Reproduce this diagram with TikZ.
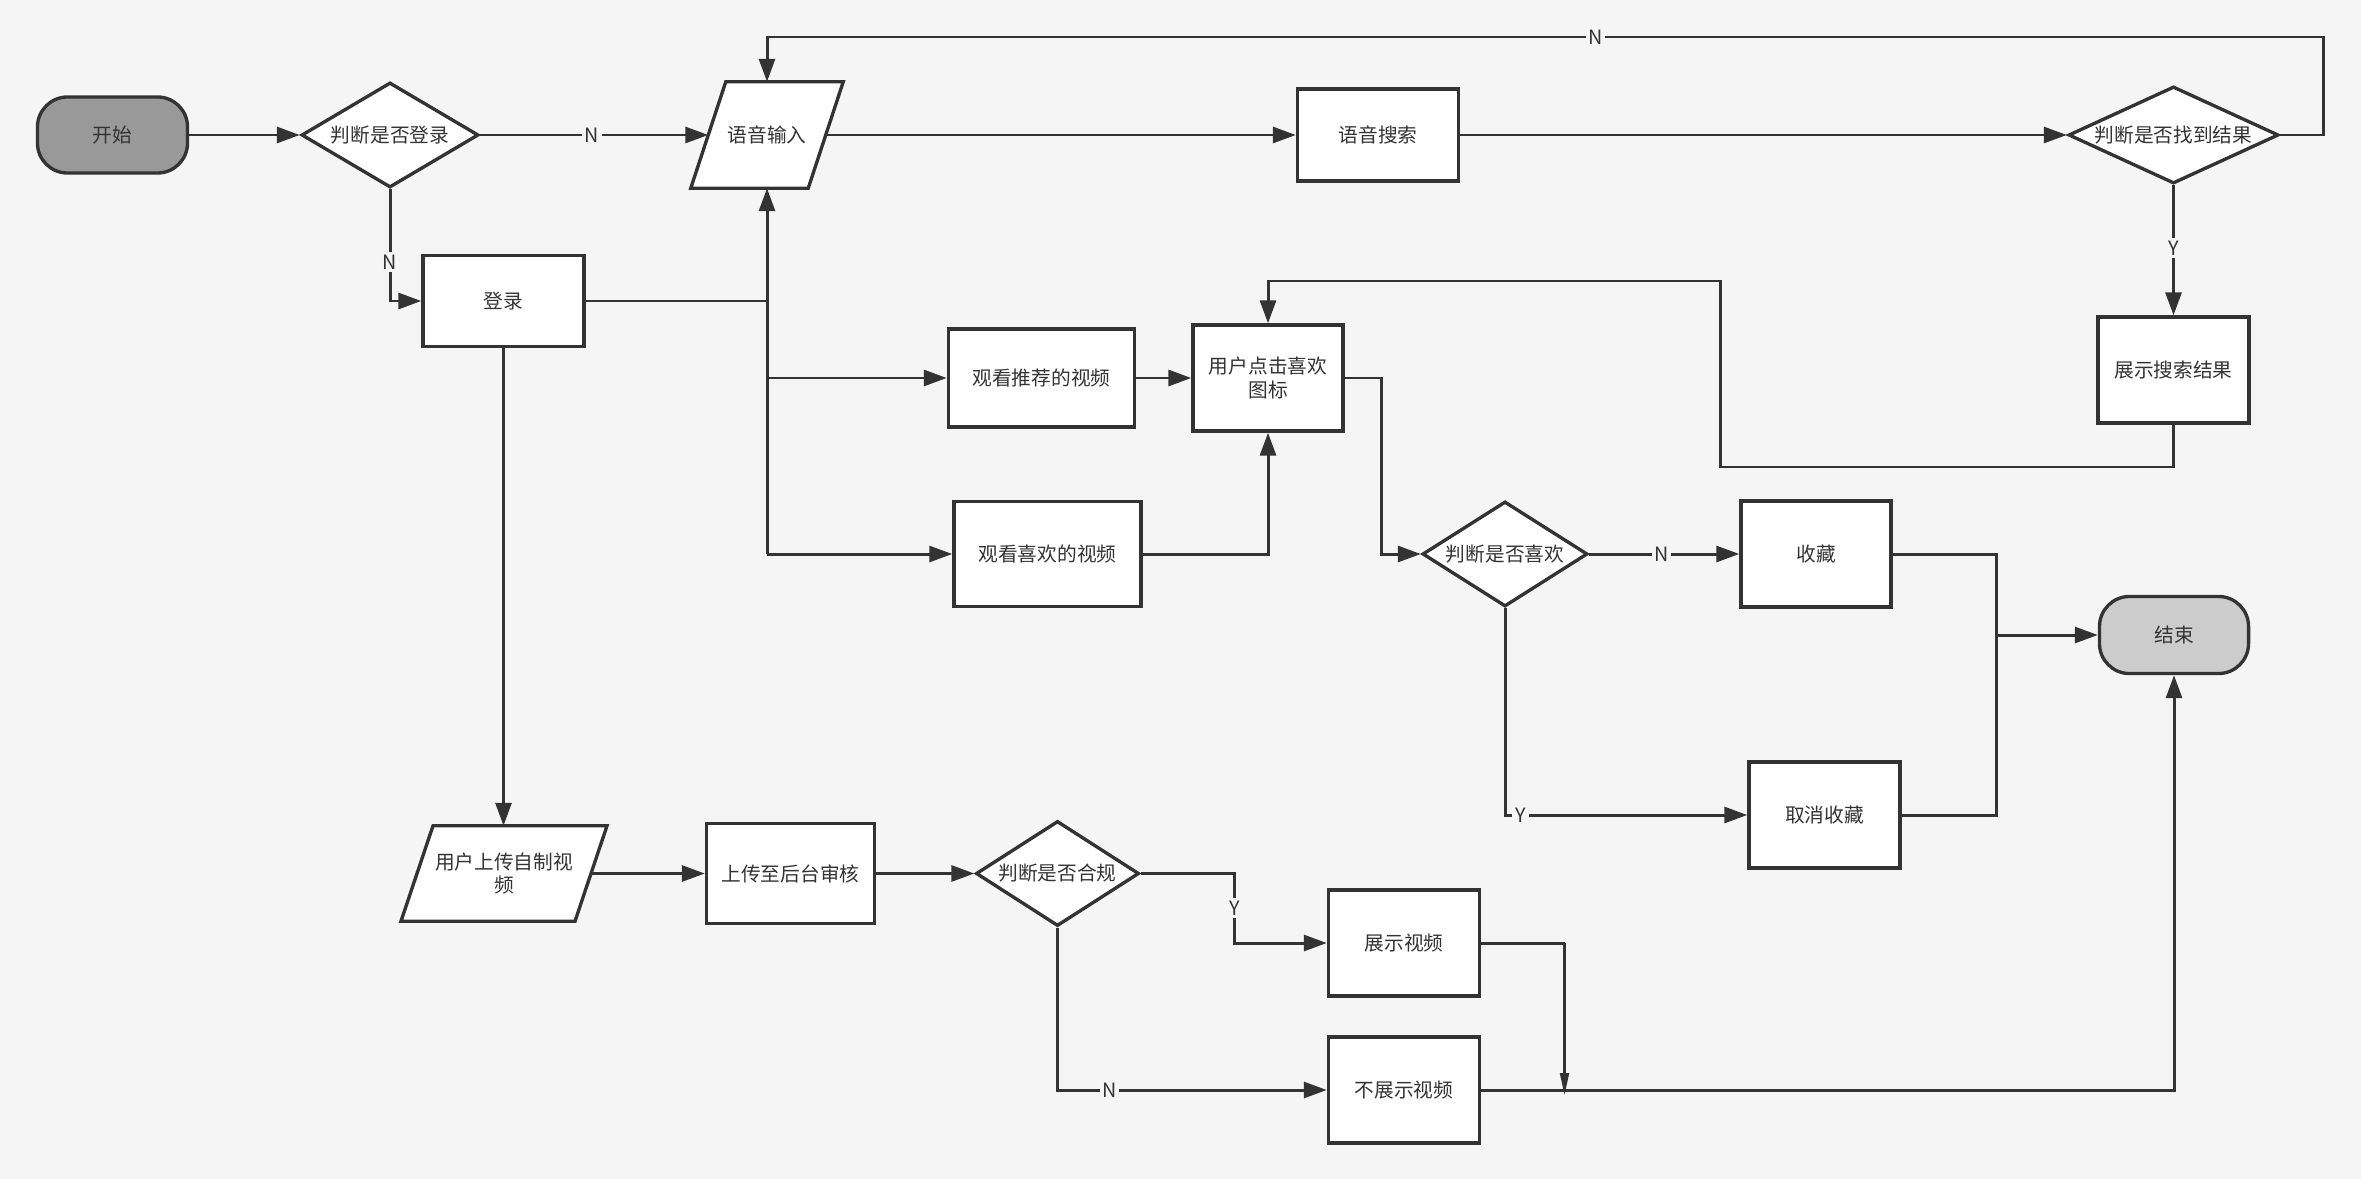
\documentclass[tikz,border=0pt]{standalone}
\usepackage{fontspec}
\setmainfont{Noto Sans CJK SC}
\usetikzlibrary{shapes.geometric,arrows.meta}
\definecolor{bg}{HTML}{F5F5F5}
\definecolor{lc}{HTML}{333333}
\definecolor{startc}{HTML}{999999}
\definecolor{endc}{HTML}{CCCCCC}
\pgfdeclarelayer{back}
\pgfsetlayers{back,main}
\begin{document}
\begin{tikzpicture}[x=0.01cm,y=-0.01cm,
  font=\fontsize{5.6pt}{6.6pt}\selectfont,
  base/.style={draw=lc, line width=0.95pt, fill=white, inner sep=0pt, align=center, text=lc},
  box/.style={base, rectangle},
  term/.style={base, rounded corners=0.3cm},
  dec/.style={base, diamond},
  iobody/.style={rectangle, inner sep=0pt, align=center, text=lc},
  ioshape/.style={draw=lc, line width=0.95pt, fill=white, line join=miter},
  conn/.style={draw=lc, line width=0.85pt},
  arr/.style={conn, -{Triangle[length=0.23cm,width=0.16cm]}},
  arrthin/.style={draw=lc, line width=0.6pt, -{Triangle[length=0.22cm,width=0.09cm]}},
  lab/.style={fill=bg, inner sep=0.8pt, text=lc}]
\begin{pgfonlayer}{back}
\fill[bg] (0,0) rectangle (2361,1179);
\end{pgfonlayer}
\useasboundingbox (0,0) rectangle (2361,1179);
% nodes
\node[term, fill=startc, minimum width=1.50cm, minimum height=0.76cm] (start) at (112.5,135) {开始};
\node[dec, minimum width=1.77cm, minimum height=1.05cm, aspect=1.69] (d1) at (390,135) {判断是否登录};
\node[iobody, minimum width=1.16cm, minimum height=1.05cm] (yuyin) at (767,135) {语音输入};
\node[box, minimum width=1.61cm, minimum height=0.92cm] (search) at (1378,135) {语音搜索};
\node[dec, minimum width=2.10cm, minimum height=0.97cm, aspect=2.16] (d2) at (2173.5,135) {判断是否找到结果};
\node[box, minimum width=1.61cm, minimum height=0.91cm] (login) at (503.5,301) {登录};
\node[box, minimum width=1.51cm, minimum height=1.06cm] (showres) at (2173.5,370) {展示搜索结果};
\node[box, minimum width=1.86cm, minimum height=0.98cm] (rec) at (1041.5,378) {观看推荐的视频};
\node[box, minimum width=1.50cm, minimum height=1.06cm] (click) at (1268,378) {用户点击喜欢\\图标};
\node[box, minimum width=1.87cm, minimum height=1.05cm] (fav) at (1047.5,554) {观看喜欢的视频};
\node[dec, minimum width=1.65cm, minimum height=1.05cm, aspect=1.57] (d4) at (1505,554) {判断是否喜欢};
\node[box, minimum width=1.50cm, minimum height=1.06cm] (col) at (1816,554) {收藏};
\node[term, fill=endc, minimum width=1.49cm, minimum height=0.77cm] (end) at (2174,635) {结束};
\node[box, minimum width=1.51cm, minimum height=1.06cm] (uncol) at (1824.5,815) {取消收藏};
\node[iobody, minimum width=1.725cm, minimum height=0.94cm] (upl) at (504,873.5) {用户上传自制视\\频};
\node[box, minimum width=1.68cm, minimum height=1.00cm] (aud) at (790.5,873.5) {上传至后台审核};
\node[dec, minimum width=1.63cm, minimum height=1.05cm, aspect=1.55] (d3) at (1057.5,873.5) {判断是否合规};
\node[box, minimum width=1.51cm, minimum height=1.06cm] (showv) at (1404,943) {展示视频};
\node[box, minimum width=1.51cm, minimum height=1.06cm] (noshow) at (1404,1090) {不展示视频};
% parallelogram outlines behind the io nodes
\begin{pgfonlayer}{back}
\draw[ioshape] ([xshift=0.175cm]yuyin.north west) -- ([xshift=0.175cm]yuyin.north east)
  -- ([xshift=-0.175cm]yuyin.south east) -- ([xshift=-0.175cm]yuyin.south west) -- cycle;
\draw[ioshape] ([xshift=0.16cm]upl.north west) -- ([xshift=0.16cm]upl.north east)
  -- ([xshift=-0.16cm]upl.south east) -- ([xshift=-0.16cm]upl.south west) -- cycle;
\end{pgfonlayer}
% bend coordinates
\coordinate (j1) at (767,301);
\coordinate (j2) at (767,378);
\coordinate (j3) at (767,554);
\coordinate (c1) at (1381,378);
\coordinate (t1) at (2323.5,37);
\coordinate (r1) at (1720.5,467);
\coordinate (r2) at (1720.5,281);
\coordinate (m1) at (1996,635);
\coordinate (y1) at (1234.5,873.5);
\coordinate (s1) at (1564.5,943);
% connectors
\draw[arr] (start) -- (d1);
\draw[arr] (d1) -- (yuyin);
\draw[arr] (d1.south) |- (login.west);
\draw[conn] (login.east) -- (j1);
\draw[arr] (j3) -- (yuyin.south);
\draw[arr] (j2) -- (rec.west);
\draw[arr] (j3) -- (fav.west);
\draw[arr] (rec) -- (click);
\draw[arr] (fav.east) -| (click.south);
\draw[arr] (click.east) -- (c1) |- (d4.west);
\draw[arr] (yuyin) -- (search);
\draw[arr] (search) -- (d2);
\draw[arr] (d2.east) -| (t1) -| (yuyin.north);
\draw[arr] (d2) -- (showres);
\draw[arr] (showres.south) |- (r1) -- (r2) -| (click.north);
\draw[arr] (d4) -- (col);
\draw[arr] (d4.south) |- (uncol.west);
\draw[conn] (col.east) -| (m1);
\draw[conn] (uncol.east) -| (m1);
\draw[arr] (m1) -- (end.west);
\draw[arr] (login.south) -- (login.south |- upl.north);
\draw[arr] (upl) -- (aud);
\draw[arr] (aud) -- (d3);
\draw[arr] (d3.east) -- (y1) |- (showv.west);
\draw[arr] (d3.south) |- (noshow.west);
\draw[conn] (showv.east) -- (s1);
\draw[arr] (noshow.east) -| (end.south);
\draw[arrthin] (s1) -- ([yshift=-0.05cm]s1 |- noshow.east);
% labels
\node[lab] (lN1) at (592,135) {N};
\node[lab] (lN2) at (390,262) {N};
\node[lab] (lN3) at (1595.5,37) {N};
\node[lab] (lY1) at (2173.5,248) {Y};
\node[lab] (lN4) at (1661.5,554) {N};
\node[lab] (lY2) at (1520.5,815) {Y};
\node[lab] (lY3) at (1234.5,908) {Y};
\node[lab] (lN5) at (1109.5,1090) {N};
\end{tikzpicture}
\end{document}
